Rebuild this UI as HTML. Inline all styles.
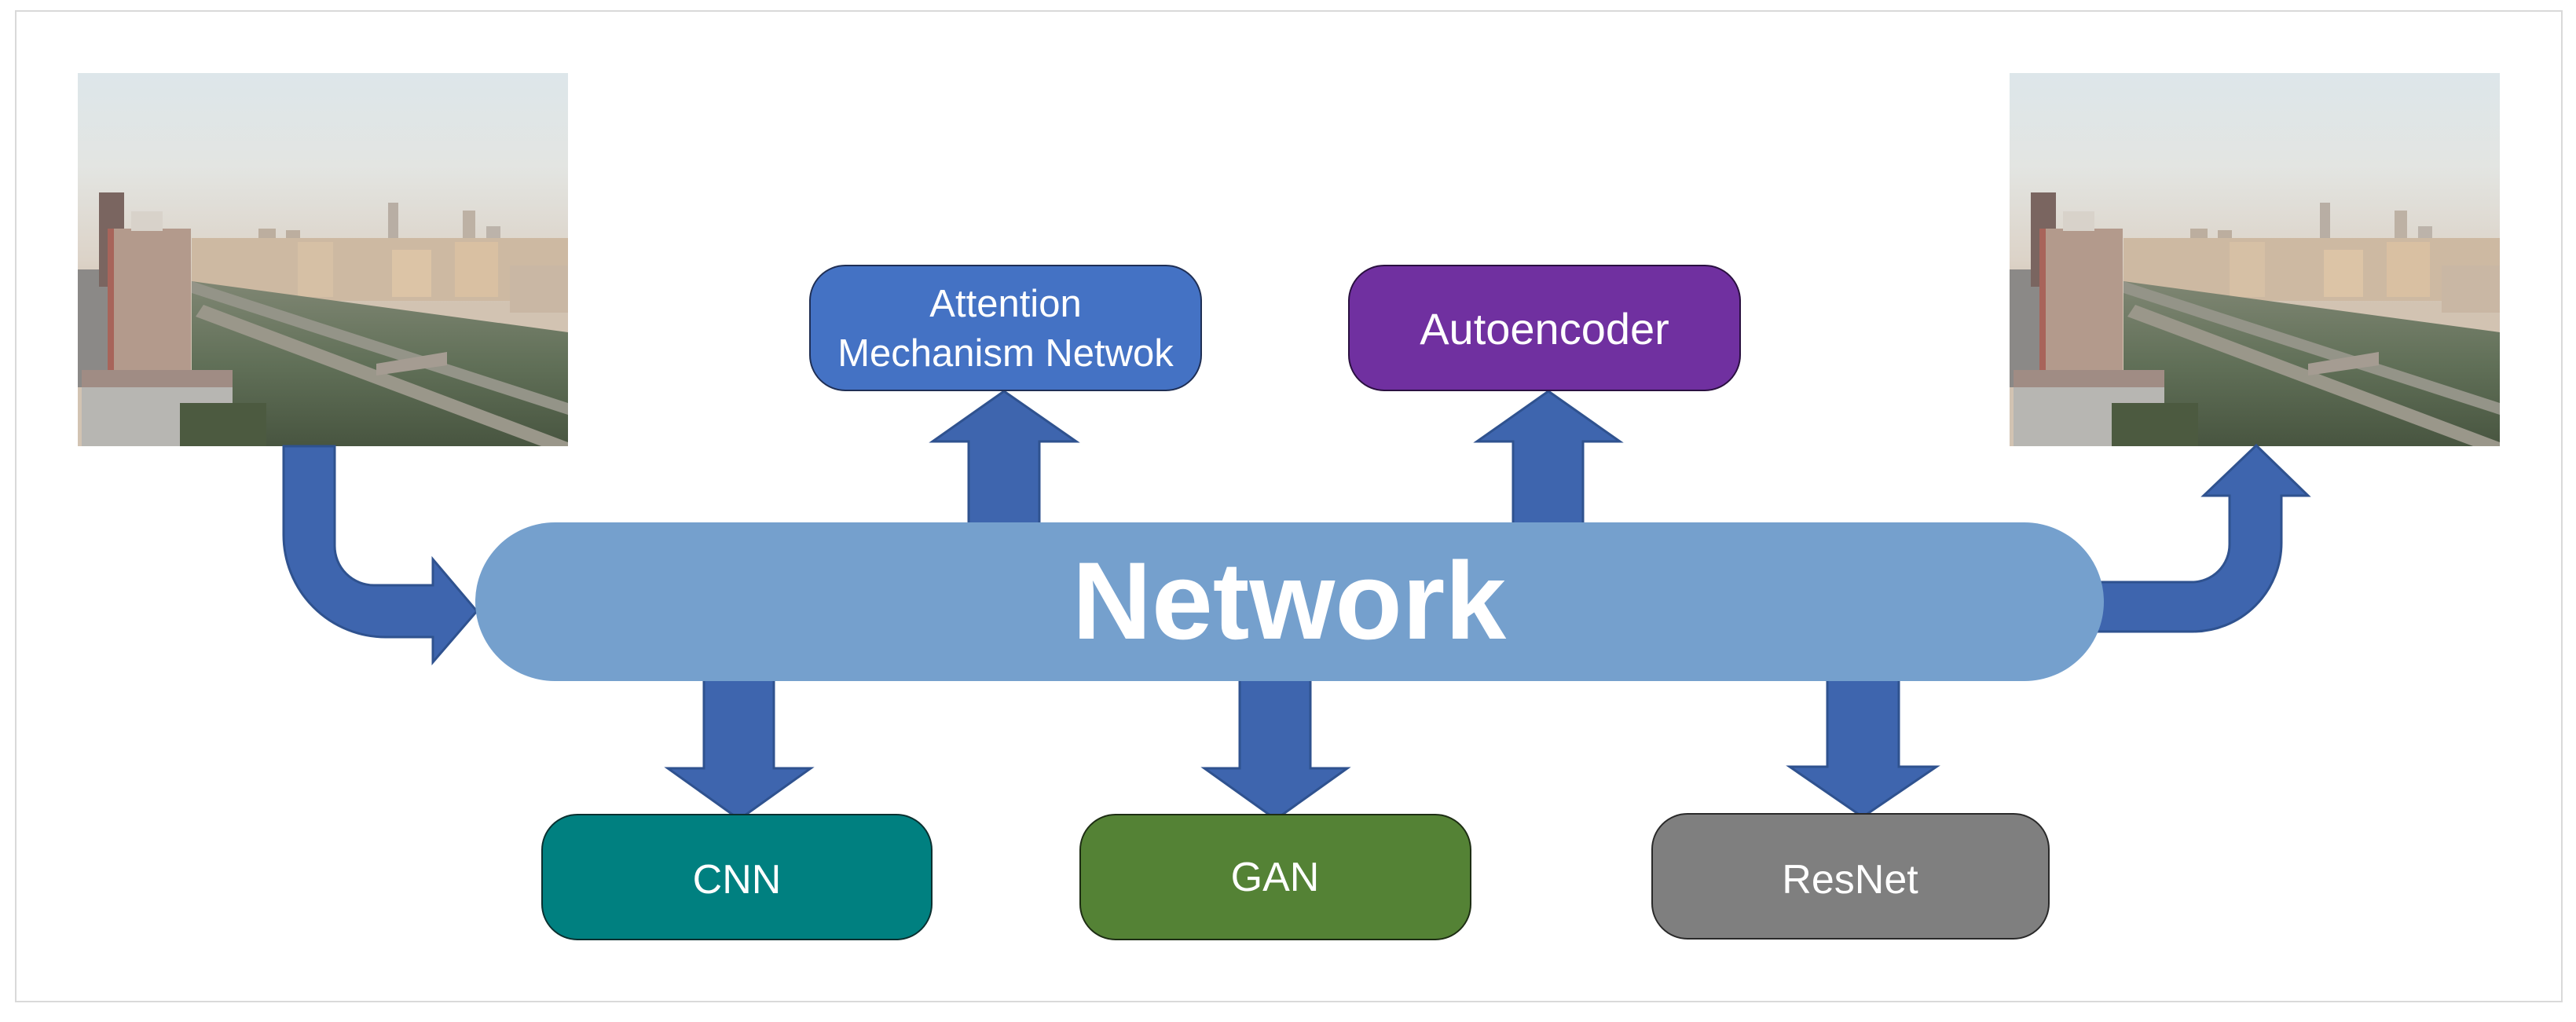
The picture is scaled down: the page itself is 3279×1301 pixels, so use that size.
<!DOCTYPE html>
<html><head><meta charset="utf-8">
<style>
html,body{margin:0;padding:0;background:#fff;}
body{width:3279px;height:1296px;overflow:hidden;}
svg text{font-family:"Liberation Sans",sans-serif;fill:#fff;}
</style></head>
<body>
<svg width="3279" height="1296" viewBox="0 0 3279 1296" xmlns="http://www.w3.org/2000/svg">
<defs>
 <linearGradient id="sky" x1="0" y1="0" x2="0" y2="1">
  <stop offset="0" stop-color="#dde6ea"/>
  <stop offset="0.25" stop-color="#e3e5e2"/>
  <stop offset="0.5" stop-color="#dcd3c8"/>
  <stop offset="0.62" stop-color="#d2c3b2"/>
 </linearGradient>
 <linearGradient id="ground" x1="0" y1="0" x2="0" y2="1">
  <stop offset="0" stop-color="#7f8673"/>
  <stop offset="0.5" stop-color="#617058"/>
  <stop offset="1" stop-color="#485540"/>
 </linearGradient>
 <g id="photo">
  <rect x="0" y="0" width="624" height="475" fill="url(#sky)"/>
  <rect x="395" y="165" width="13" height="50" fill="#b8aea4"/>
  <rect x="490" y="175" width="16" height="45" fill="#bdb1a4"/>
  <rect x="520" y="195" width="18" height="30" fill="#bcb3aa"/>
  <rect x="230" y="198" width="22" height="40" fill="#bcae9f"/>
  <rect x="265" y="200" width="18" height="40" fill="#bcae9f"/>
  <rect x="145" y="210" width="479" height="80" fill="#cdb9a2"/>
  <rect x="280" y="215" width="45" height="70" fill="#d6c0a5"/>
  <rect x="400" y="225" width="50" height="60" fill="#dcc4a6"/>
  <rect x="480" y="215" width="55" height="70" fill="#d9c0a2"/>
  <rect x="550" y="245" width="74" height="60" fill="#c9b7a4"/>
  <polygon points="145,265 624,330 624,475 145,475" fill="url(#ground)"/>
  <polygon points="145,265 624,420 624,435 145,280" fill="#949488"/>
  <polygon points="160,295 624,470 624,475 590,475 150,310" fill="#9a978a"/>
  <polygon points="380,370 470,355 470,372 380,385" fill="#a59c92"/>
  <rect x="0" y="250" width="40" height="150" fill="#8b8987"/>
  <rect x="27" y="152" width="32" height="120" fill="#7a6560"/>
  <rect x="38" y="198" width="106" height="190" fill="#b39a8c"/>
  <rect x="38" y="198" width="8" height="190" fill="#a8645a"/>
  <rect x="68" y="176" width="40" height="25" fill="#d8d2ca"/>
  <rect x="5" y="378" width="192" height="97" fill="#b7b6b2"/>
  <rect x="5" y="378" width="192" height="22" fill="#a08c84"/>
  <rect x="130" y="420" width="110" height="55" fill="#4c5a40"/>
 </g>
</defs>

<rect x="20" y="14" width="3241" height="1261" fill="none" stroke="#d9d9d9" stroke-width="2"/>

<use href="#photo" x="99" y="93"/>
<use href="#photo" x="2558" y="93"/>

<g fill="#3e65ae" stroke="#2f528f" stroke-width="3" stroke-linejoin="miter">
 <path d="M361,568 L426,568 L426,695 A50,50 0 0 0 476,745 L551,745 L551,712 L607,778 L551,843 L551,811 L491,811 A130,130 0 0 1 361,681 Z"/>
 <path d="M2670,741 L2790,741 A48,48 0 0 0 2838,693 L2838,631 L2805,631 L2872,567 L2938,631 L2904,631 L2904,691 A113,113 0 0 1 2791,804 L2670,804 Z"/>
 <path d="M1233,668 L1233,562 L1187,562 L1278,498 L1370,562 L1323,562 L1323,668 Z"/>
 <path d="M1926,668 L1926,562 L1880,562 L1971,498 L2062,562 L2015,562 L2015,668 Z"/>
 <path d="M896,864 L896,978 L850,978 L941,1043 L1032,978 L985,978 L985,864 Z"/>
 <path d="M1578,864 L1578,978 L1533,978 L1624,1043 L1715,978 L1668,978 L1668,864 Z"/>
 <path d="M2326,864 L2326,976 L2278,976 L2371,1040 L2465,976 L2417,976 L2417,864 Z"/>
</g>

<rect x="605" y="665" width="2073" height="202" rx="101" fill="#75a0cd"/>
<text x="1641" y="813" font-size="140" font-weight="bold" text-anchor="middle">Network</text>

<rect x="1031" y="338" width="498" height="159" rx="45" fill="#4472c4" stroke="#1f2f55" stroke-width="2"/>
<text x="1280" y="403" font-size="49" text-anchor="middle">Attention</text>
<text x="1280" y="466" font-size="49" text-anchor="middle">Mechanism Netwok</text>

<rect x="1717" y="338" width="498" height="159" rx="45" fill="#7030a0" stroke="#2a1040" stroke-width="2"/>
<text x="1966" y="438" font-size="56" text-anchor="middle">Autoencoder</text>

<rect x="690" y="1037" width="496" height="159" rx="45" fill="#008080" stroke="#0b3030" stroke-width="2"/>
<text x="938" y="1137" font-size="52" text-anchor="middle">CNN</text>

<rect x="1375" y="1037" width="497" height="159" rx="45" fill="#548235" stroke="#1e2e14" stroke-width="2"/>
<text x="1623" y="1134" font-size="52" text-anchor="middle">GAN</text>

<rect x="2103" y="1036" width="505" height="159" rx="45" fill="#7f7f7f" stroke="#2a2a2a" stroke-width="2"/>
<text x="2355" y="1137" font-size="52" text-anchor="middle">ResNet</text>
</svg>
</body></html>
